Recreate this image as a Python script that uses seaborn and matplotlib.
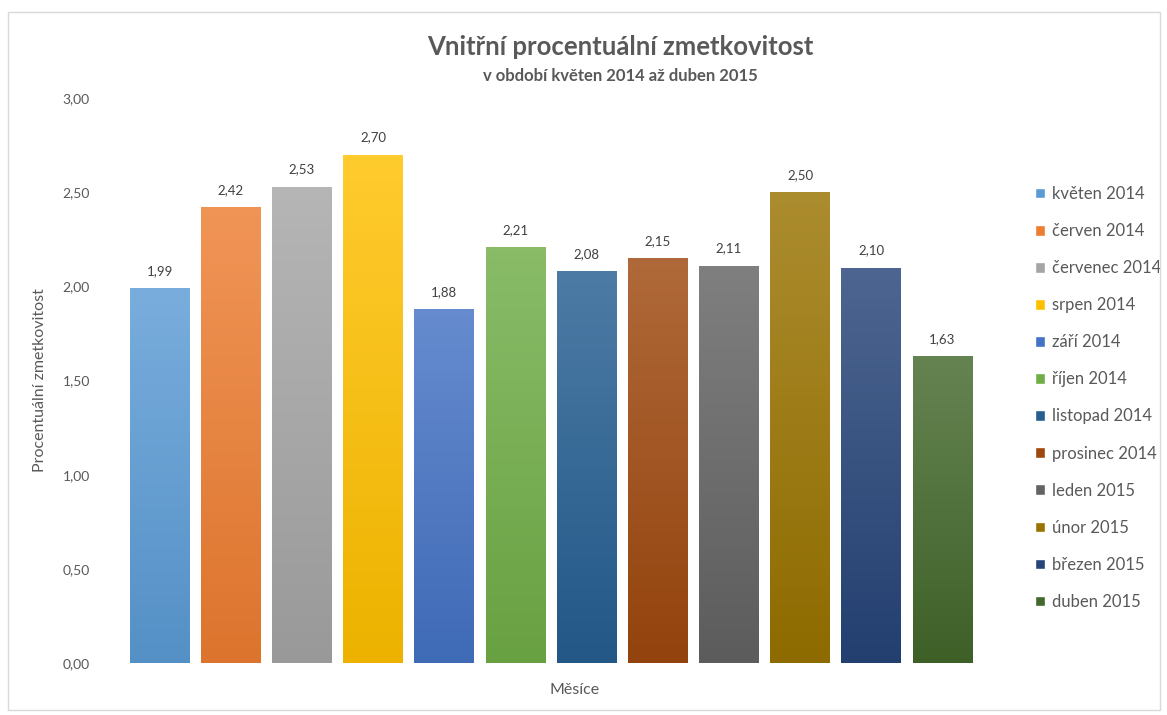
import numpy as np
import matplotlib
matplotlib.use("Agg")
import matplotlib.pyplot as plt
import matplotlib.colors as mcolors
from matplotlib.patches import Rectangle
import seaborn as sns
import pandas as pd

months = ["květen 2014", "červen 2014", "červenec 2014", "srpen 2014", "září 2014",
          "říjen 2014", "listopad 2014", "prosinec 2014", "leden 2015", "únor 2015",
          "březen 2015", "duben 2015"]
values = [1.99, 2.42, 2.53, 2.70, 1.88, 2.21, 2.08, 2.15, 2.11, 2.50, 2.10, 1.63]
colors = ["#5B9BD5", "#ED7D31", "#A5A5A5", "#FFC000", "#4472C4", "#70AD47",
          "#255E91", "#9E480E", "#636363", "#997300", "#264478", "#43682B"]
yticks = [0, 0.5, 1.0, 1.5, 2.0, 2.5, 3.0]

sns.set_theme(style="white")
plt.rcParams["font.family"] = ["Lato", "DejaVu Sans"]

df = pd.DataFrame({"month": months, "value": values})

fig = plt.figure(figsize=(11.67, 7.15), dpi=100)
ax = fig.add_axes([124 / 1167, 1 - 663 / 715, (978 - 124) / 1167, (663 - 98) / 715])

sns.barplot(data=df, x="month", y="value", hue="month", order=months, hue_order=months,
            palette=colors, dodge=False, width=0.84, legend=True, ax=ax, saturation=1)

# gradient fill clipped to each bar
for p, c in zip(ax.patches, colors):
    rgb = np.array(mcolors.to_rgb(c))
    top = rgb + (1 - rgb) * 0.18
    bot = rgb * 0.93
    n = 64
    t = np.linspace(0, 1, n)[:, None]
    grad = (top[None, :] * (1 - t) + bot[None, :] * t)[:, None, :]
    x0, y0 = p.get_x(), p.get_y()
    w, h = p.get_width(), p.get_height()
    im = ax.imshow(grad, extent=[x0, x0 + w, y0, y0 + h], aspect="auto",
                   zorder=p.get_zorder() + 0.1, interpolation="bilinear")
    im.set_clip_path(p)
    p.set_edgecolor("none")

ax.set_xlim(-0.5, len(months) - 0.5)
ax.set_ylim(0, 3.0)
ax.set_yticks(yticks)
ax.set_yticklabels([f"{v:.2f}".replace(".", ",") for v in yticks], color="#595959", fontsize=10)
ax.set_xticks([])
ax.tick_params(axis="y", length=0, pad=24.5)
for s in ax.spines.values():
    s.set_visible(False)
ax.set_xlabel("")
ax.set_ylabel("")

for cont in ax.containers:
    ax.bar_label(cont, labels=[f"{v:.2f}".replace(".", ",") for v in cont.datavalues],
                 padding=8, fontsize=9.5, color="#404040")

fig.text(40 / 1167, 1 - 380 / 715, "Procentuální zmetkovitost", rotation=90,
         ha="center", va="center", fontsize=11.5, color="#595959")
fig.text(575 / 1167, 1 - 690 / 715, "Měsíce", ha="center", va="center",
         fontsize=11.5, color="#595959")
fig.text(620 / 1167, 1 - 47 / 715, "Vnitřní procentuální zmetkovitost", ha="center",
         va="center", fontsize=18.5, fontweight="bold", color="#595959")
fig.text(620 / 1167, 1 - 76 / 715, "v období květen 2014 až duben 2015", ha="center",
         va="center", fontsize=12, fontweight="bold", color="#595959")

handles, labels = ax.get_legend_handles_labels()
leg = ax.legend(handles, labels, loc="upper left", bbox_to_anchor=(1020 / 1167, 1 - 171 / 715),
                bbox_transform=fig.transFigure, frameon=False, fontsize=12,
                labelspacing=1.265, handlelength=0.6, handleheight=0.6, handletextpad=0.4,
                labelcolor="#595959")

fig.patches.append(Rectangle((8 / 1167, 1 - 710 / 715), (1160 - 8) / 1167, (710 - 12) / 715,
                             transform=fig.transFigure, fill=False, edgecolor="#D9D9D9",
                             linewidth=1))

fig.savefig("out.png", dpi=100)
